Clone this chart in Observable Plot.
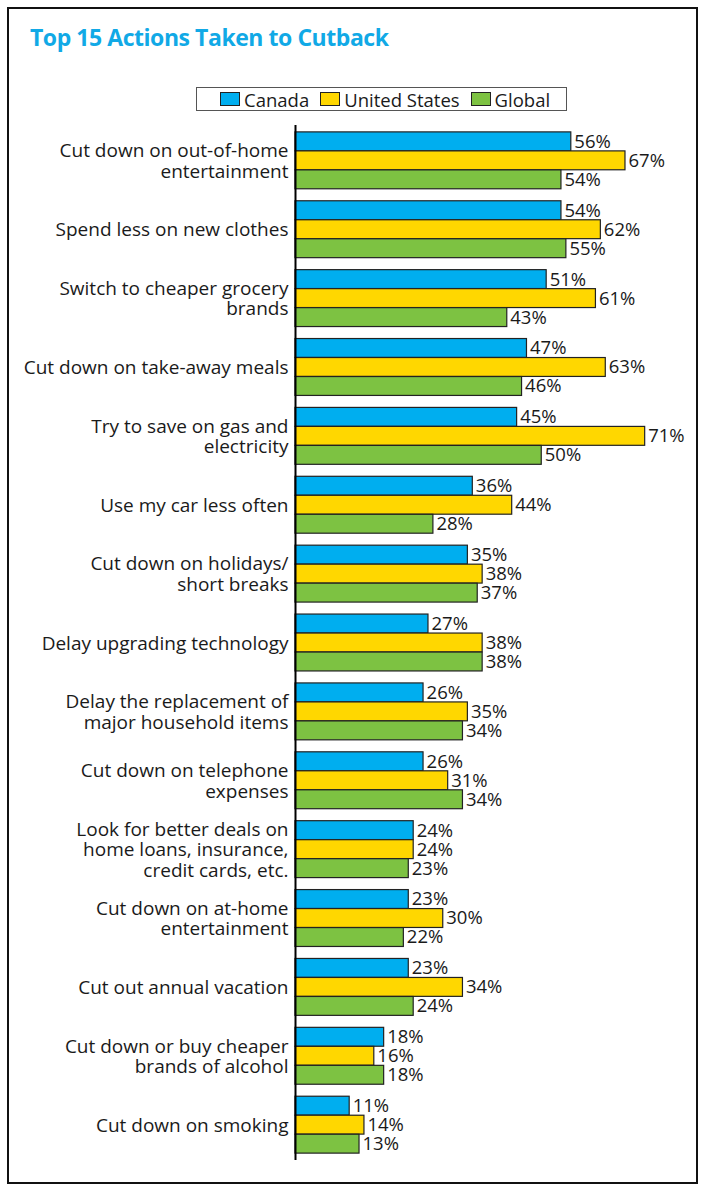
<!DOCTYPE html>
<html>
<head>
<meta charset="utf-8">
<script src="https://cdn.jsdelivr.net/npm/d3@7"></script>
<script src="https://cdn.jsdelivr.net/npm/@observablehq/plot@0.6"></script>
<style>
  html, body { margin: 0; padding: 0; background: #fff; }
  body { width: 705px; height: 1188px; position: relative; overflow: hidden; font-family: "Open Sans", sans-serif; color: #1a1a1a; }
  #frame { position: absolute; left: 7px; top: 7px; width: 691px; height: 1177px; border: 2px solid #111; box-sizing: border-box; }
  #title { position: absolute; left: 30px; top: 21px; font-size: 23px; font-weight: 700; color: #11a9e6; letter-spacing: -0.45px; white-space: nowrap; }
  #legend { position: absolute; left: 196px; top: 87px; width: 371px; height: 24px; border: 1px solid #555; box-sizing: border-box; display: flex; align-items: center; justify-content: flex-start; padding-left: 23px; gap: 11px; font-size: 18.5px; }
  #legend .item { display: flex; align-items: center; gap: 4px; }
  #legend .sw { width: 20px; height: 14px; border: 1px solid #222; box-sizing: border-box; display: inline-block; }
  #chart { position: absolute; left: 0; top: 118px; }
</style>
</head>
<body>
<div id="frame"></div>
<div id="title">Top 15 Actions Taken to Cutback</div>
<div id="legend"></div>
<div id="chart"></div>
<script>
const categories = [
  "Cut down on out-of-home\nentertainment",
  "Spend less on new clothes",
  "Switch to cheaper grocery\nbrands",
  "Cut down on take-away meals",
  "Try to save on gas and\nelectricity",
  "Use my car less often",
  "Cut down on holidays/\nshort breaks",
  "Delay upgrading technology",
  "Delay the replacement of\nmajor household items",
  "Cut down on telephone\nexpenses",
  "Look for better deals on\nhome loans, insurance,\ncredit cards, etc.",
  "Cut down on at-home\nentertainment",
  "Cut out annual vacation",
  "Cut down or buy cheaper\nbrands of alcohol",
  "Cut down on smoking"
];
const canada = [56, 54, 51, 47, 45, 36, 35, 27, 26, 26, 24, 23, 23, 18, 11];
const unitedStates = [67, 62, 61, 63, 71, 44, 38, 38, 35, 31, 24, 30, 34, 16, 14];
const global = [54, 55, 43, 46, 50, 28, 37, 38, 34, 34, 23, 22, 24, 18, 13];
const seriesNames = ["Canada", "United States", "Global"];
const seriesColors = ["#00aeef", "#ffd700", "#7dc242"];

const rows = categories.map((c, i) => ({cat: c, canada: canada[i], us: unitedStates[i], global: global[i]}));

// legend
const legend = document.getElementById("legend");
seriesNames.forEach((name, i) => {
  const it = document.createElement("span");
  it.className = "item";
  it.innerHTML = `<span class="sw" style="background:${seriesColors[i]}"></span><span>${name}</span>`;
  legend.appendChild(it);
});

const fmt = v => v + "%";
const third = 19;
const common = {stroke: "#222", strokeWidth: 1.2};
const textCommon = {fontSize: 18.5, fill: "#1a1a1a", textAnchor: "start", dx: 3};

const chart = Plot.plot({
  width: 705,
  height: 1047,
  marginTop: 7,
  marginBottom: 5,
  marginLeft: 295,
  marginRight: 16,
  x: {domain: [0, 80], axis: null},
  y: {domain: categories, axis: null, paddingInner: 0.174, paddingOuter: 0.1, align: 0.5, round: false},
  style: {fontFamily: "Open Sans", background: "transparent"},
  marks: [
    Plot.barX(rows, {y: "cat", x1: 0, x2: "canada", fill: seriesColors[0], insetBottom: 2 * third, ...common}),
    Plot.barX(rows, {y: "cat", x1: 0, x2: "us", fill: seriesColors[1], insetTop: third, insetBottom: third, ...common}),
    Plot.barX(rows, {y: "cat", x1: 0, x2: "global", fill: seriesColors[2], insetTop: 2 * third, ...common}),
    Plot.text(rows, {y: "cat", x: "canada", text: d => fmt(d.canada), dy: -third, ...textCommon}),
    Plot.text(rows, {y: "cat", x: "us", text: d => fmt(d.us), ...textCommon}),
    Plot.text(rows, {y: "cat", x: "global", text: d => fmt(d.global), dy: third, ...textCommon}),
    Plot.text(categories, {y: d => d, text: d => d, frameAnchor: "left", textAnchor: "end", dx: -7, fontSize: 19, lineHeight: 1.08, fill: "#1a1a1a"}),
    Plot.ruleX([0], {stroke: "#000", strokeWidth: 2})
  ]
});
document.getElementById("chart").appendChild(chart);
</script>
</body>
</html>
